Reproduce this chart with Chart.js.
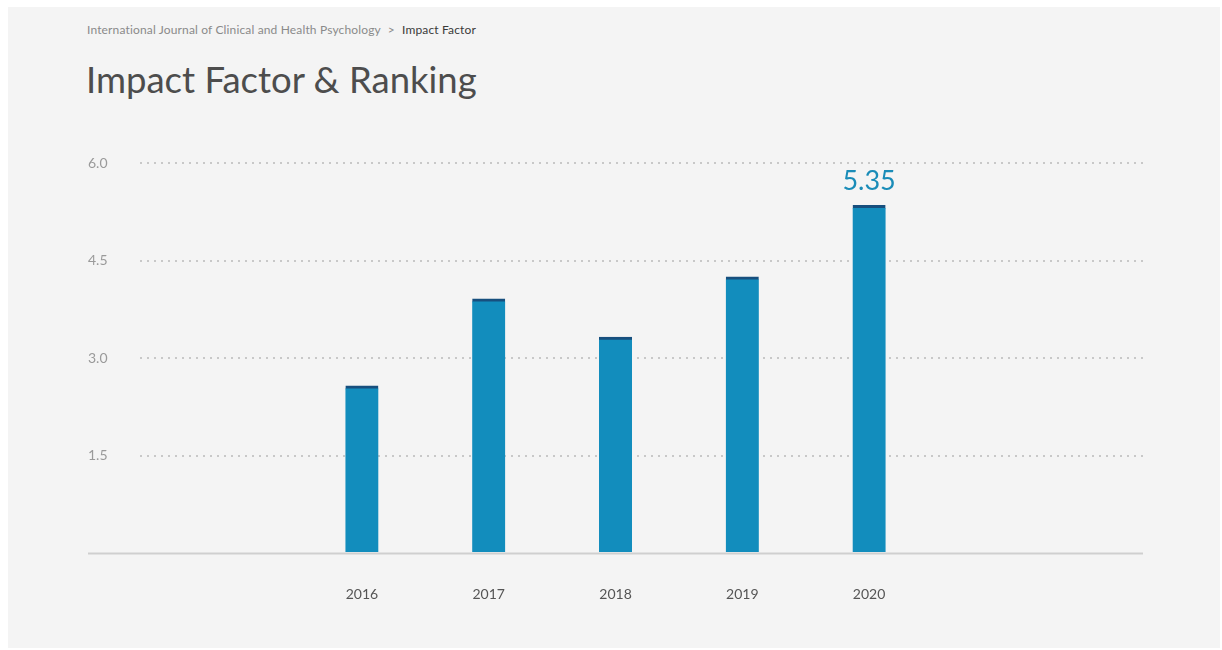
<!DOCTYPE html>
<html>
<head>
<meta charset="utf-8">
<script src="https://cdn.jsdelivr.net/npm/chart.js@4"></script>
<style>
  html, body { margin: 0; padding: 0; background: #fff; width: 1222px; height: 650px; overflow: hidden; }
  .panel { position: absolute; left: 8px; top: 7px; width: 1212px; height: 641px; background: #f4f4f4; }
  .crumb { position: absolute; left: 87px; top: 22px; font: 12px Lato, sans-serif; color: #8a8a8a; letter-spacing: 0.15px; }
  .crumb b { font-weight: normal; color: #3a3a3a; }
  .crumb span { margin: 0 7px; }
  h1 { position: absolute; left: 86px; top: 57px; margin: 0; font: 36.5px Lato, sans-serif; color: #4d4d4d; }
  #chart { position: absolute; left: 0; top: 0; }
</style>
</head>
<body>
<div class="panel"></div>
<div class="crumb">International Journal of Clinical and Health Psychology<span>&gt;</span><b>Impact Factor</b></div>
<h1>Impact Factor &amp; Ranking</h1>
<canvas id="chart" width="1222" height="650"></canvas>
<script>
const years = [2016, 2017, 2018, 2019, 2020];
const impactFactor = [2.57, 3.91, 3.32, 4.25, 5.35];
const yTicks = [0, 1.5, 3.0, 4.5, 6.0];

const baseLine = {
  id: 'baseLine',
  afterDraw(chart) {
    const ctx = chart.ctx, y = chart.scales.y, x = chart.scales.x;
    const py = Math.round(y.getPixelForValue(0)) + 0.5;
    ctx.save();
    ctx.strokeStyle = '#cfcfcf';
    ctx.lineWidth = 2;
    ctx.beginPath();
    ctx.moveTo(88, py);
    ctx.lineTo(x.right, py);
    ctx.stroke();
    // value label over the latest year
    const meta = chart.getDatasetMeta(0);
    const last = meta.data[meta.data.length - 1];
    ctx.fillStyle = '#1a8cb8';
    ctx.font = '27px Lato, sans-serif';
    ctx.textAlign = 'center';
    ctx.textBaseline = 'alphabetic';
    ctx.fillText(impactFactor[impactFactor.length - 1].toFixed(2), last.x, last.y - 15);
    ctx.restore();
  }
};

new Chart(document.getElementById('chart'), {
  type: 'bar',
  data: {
    datasets: [{
      data: years.map((yr, i) => ({ x: yr, y: impactFactor[i] })),
      backgroundColor: '#128dbd',
      borderColor: '#174f7e',
      borderWidth: { top: 3, left: 0, right: 0, bottom: 0 },
      borderSkipped: false,
      barThickness: 33
    }]
  },
  options: {
    responsive: false,
    animation: false,
    devicePixelRatio: 1,
    layout: { padding: { left: 88, right: 79, top: 163, bottom: 0 } },
    plugins: { legend: { display: false }, tooltip: { enabled: false } },
    scales: {
      x: {
        type: 'linear',
        offset: false,
        min: 2014.25,
        max: 2022.16,
        afterBuildTicks: s => { s.ticks = years.map(v => ({ value: v })); },
        afterFit: s => { s.height = 97; },
        grid: { display: false, drawTicks: false },
        border: { display: false },
        ticks: {
          padding: 33,
          color: '#555',
          font: { family: 'Lato, sans-serif', size: 14 },
          callback: v => String(v)
        }
      },
      y: {
        min: 0,
        max: 6,
        afterBuildTicks: s => { s.ticks = yTicks.map(v => ({ value: v })); },
        afterFit: s => { s.width = 52; },
        border: { display: false, dash: [2, 5] },
        grid: {
          drawTicks: false,
          color: c => c.tick.value === 0 ? 'rgba(0,0,0,0)' : '#c8c8c8',
          lineWidth: 2
        },
        ticks: {
          crossAlign: 'far',
          padding: 0,
          color: '#9a9a9a',
          font: { family: 'Lato, sans-serif', size: 14 },
          callback: v => v === 0 ? '' : v.toFixed(1)
        }
      }
    }
  },
  plugins: [baseLine]
});
</script>
</body>
</html>
